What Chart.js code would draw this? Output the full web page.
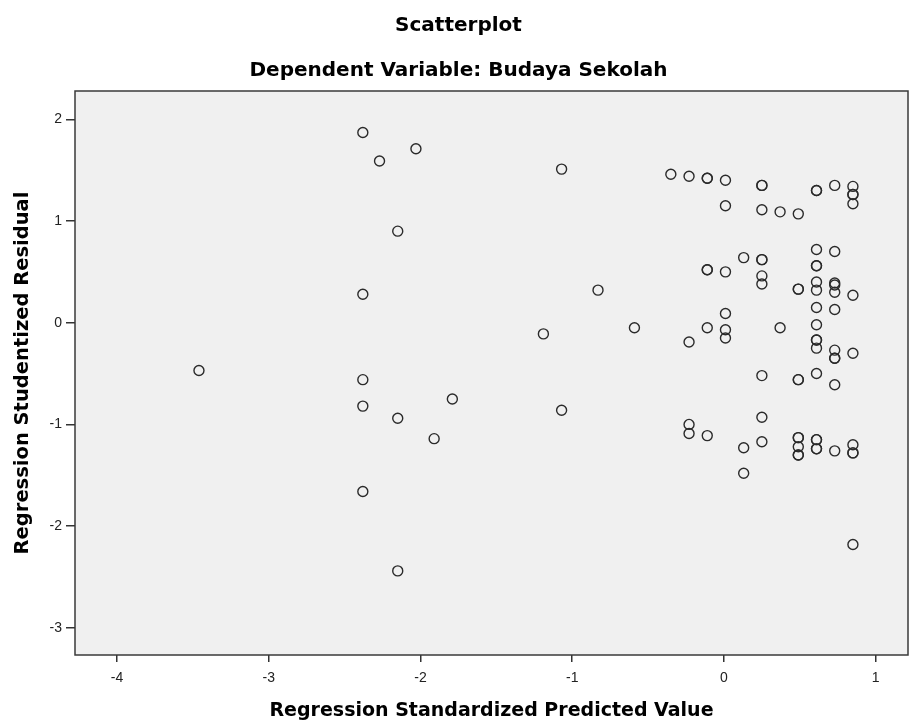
<!DOCTYPE html>
<html>
<head>
<meta charset="utf-8">
<title>Scatterplot</title>
<script src="https://cdn.jsdelivr.net/npm/chart.js@4.4.1/dist/chart.umd.min.js"></script>
<style>
  html, body { margin: 0; padding: 0; background: #fff; }
  #wrap { width: 909px; height: 724px; position: relative; }
</style>
</head>
<body>
<div id="wrap"><canvas id="scatterChart"></canvas></div>
<script>
// Regression Standardized Predicted Value
var predictedValues = [
    -3.46, -2.38, -2.27, -2.03, -1.07, -2.15, -2.38, -0.83, -1.19, -2.38,
    -2.38, -1.79, -2.15, -1.07, -1.91, -2.38, -2.15, -0.59,
    -0.35, -0.23, -0.11, -0.11, 0.01, 0.25, 0.25, 0.61, 0.61, 0.73,
    0.85, 0.85, 0.85, 0.85, 0.01, 0.25, 0.37, 0.49,
    0.61, 0.73, 0.13, 0.25, 0.25, 0.61, 0.61, -0.11, -0.11, 0.01,
    0.25, 0.25, 0.61, 0.61, 0.73, 0.73, 0.73, 0.49, 0.49, 0.85,
    0.61, 0.73, 0.01, -0.11, 0.01, 0.01, -0.23, 0.37, 0.61, 0.61,
    0.61, 0.61, 0.73, 0.73, 0.73, 0.85, 0.25, 0.49, 0.49, 0.61, 0.73,
    0.25, -0.23, -0.23, -0.11, 0.13, 0.25, 0.13, 0.49, 0.49, 0.49,
    0.49, 0.49, 0.61, 0.61, 0.61, 0.61, 0.73, 0.85, 0.85, 0.85, 0.85
];
// Regression Studentized Residual
var residuals = [
    -0.47, 1.87, 1.59, 1.71, 1.51, 0.90, 0.28, 0.32, -0.11, -0.56,
    -0.82, -0.75, -0.94, -0.86, -1.14, -1.66, -2.44, -0.05,
    1.46, 1.44, 1.42, 1.42, 1.40, 1.35, 1.35, 1.30, 1.30, 1.35,
    1.34, 1.26, 1.26, 1.17, 1.15, 1.11, 1.09, 1.07,
    0.72, 0.70, 0.64, 0.62, 0.62, 0.56, 0.56, 0.52, 0.52, 0.50,
    0.46, 0.38, 0.40, 0.32, 0.39, 0.37, 0.30, 0.33, 0.33, 0.27,
    0.15, 0.13, 0.09, -0.05, -0.07, -0.15, -0.19, -0.05, -0.02, -0.17,
    -0.17, -0.25, -0.27, -0.35, -0.35, -0.30, -0.52, -0.56, -0.56, -0.50, -0.61,
    -0.93, -1.00, -1.09, -1.11, -1.23, -1.17, -1.48, -1.13, -1.13, -1.22,
    -1.30, -1.30, -1.15, -1.15, -1.24, -1.24, -1.26, -1.20, -1.28, -1.28, -2.18
];
var xTicks = [-4, -3, -2, -1, 0, 1];
var yTicks = [-3, -2, -1, 0, 1, 2];

var points = predictedValues.map(function(x, i) {
    return { x: x, y: residuals[i] };
});

// grey plot area with a dark frame
var plotFrame = {
    id: 'plotFrame',
    beforeDatasetsDraw: function(chart) {
        var a = chart.chartArea;
        var ctx = chart.ctx;
        ctx.save();
        ctx.fillStyle = '#f0f0f0';
        ctx.fillRect(a.left, a.top, a.right - a.left, a.bottom - a.top);
        ctx.strokeStyle = '#3a3a3a';
        ctx.lineWidth = 1.5;
        ctx.strokeRect(a.left, a.top, a.right - a.left, a.bottom - a.top);
        ctx.restore();
    }
};

var titleFont = { family: 'DejaVu Sans', size: 20, weight: 'bold' };
var axisTitleFont = { family: 'DejaVu Sans', size: 19, weight: 'bold' };
var tickFont = { family: 'Liberation Sans', size: 14 };

var ctx = document.getElementById('scatterChart').getContext('2d');
var myChart = new Chart(ctx, {
    type: 'scatter',
    data: {
        datasets: [{
            data: points,
            pointStyle: 'circle',
            pointRadius: 5,
            pointHoverRadius: 5,
            pointBorderWidth: 1.4,
            pointBorderColor: '#2a2a2a',
            pointBackgroundColor: 'rgba(0,0,0,0)'
        }]
    },
    options: {
        responsive: true,
        maintainAspectRatio: false,
        animation: false,
        layout: { autoPadding: false, padding: { left: 9, right: 1, top: 0, bottom: 0 } },
        plugins: {
            legend: { display: false },
            tooltip: { enabled: false },
            title: {
                display: true,
                text: 'Scatterplot',
                color: '#000',
                font: titleFont,
                padding: { top: 14, bottom: 10 }
            },
            subtitle: {
                display: true,
                text: 'Dependent Variable: Budaya Sekolah',
                color: '#000',
                font: titleFont,
                padding: { top: 10.5, bottom: 8.5 }
            }
        },
        scales: {
            x: {
                type: 'linear',
                min: -4.277,
                max: 1.213,
                afterBuildTicks: function(scale) {
                    scale.ticks = xTicks.map(function(v) { return { value: v }; });
                },
                afterFit: function(scale) {
                    scale.height = 69;
                    scale.paddingLeft = 0;
                    scale.paddingRight = 0;
                },
                border: { display: false },
                grid: { drawOnChartArea: false, drawTicks: true, tickLength: 7, color: '#333', lineWidth: 1.5 },
                ticks: { color: '#222', font: tickFont, padding: 8, maxRotation: 0 },
                title: {
                    display: true,
                    text: 'Regression Standardized Predicted Value',
                    color: '#000',
                    font: axisTitleFont,
                    padding: { top: 0, bottom: 1.5 }
                }
            },
            y: {
                type: 'linear',
                min: -3.267,
                max: 2.278,
                afterBuildTicks: function(scale) {
                    scale.ticks = yTicks.map(function(v) { return { value: v }; });
                },
                afterFit: function(scale) { scale.width = 66; },
                border: { display: false },
                grid: { drawOnChartArea: false, drawTicks: true, tickLength: 9, color: '#333', lineWidth: 1.5 },
                ticks: { color: '#222', font: tickFont, padding: 4 },
                title: {
                    display: true,
                    text: 'Regression Studentized Residual',
                    color: '#000',
                    font: { family: 'DejaVu Sans', size: 19.5, weight: 'bold' },
                    padding: { top: 2.5, bottom: 0 }
                }
            }
        }
    },
    plugins: [plotFrame]
});
</script>
</body>
</html>
